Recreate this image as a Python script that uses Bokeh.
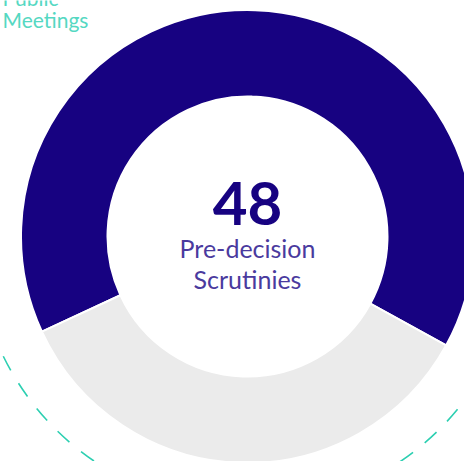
import numpy as np
from bokeh.plotting import figure
from bokeh.models import Range1d, ColumnDataSource
from bokeh.core.properties import value
from bokeh.embed import file_html
from bokeh.resources import INLINE

# Data
categories = ["Pre-decision Scrutinies", "Other"]
values = [48, 26]
colors = ["#170281", "#ebebeb"]
center_number = "48"
center_label = ["Pre-decision", "Scrutinies"]
outer_label = ["Public", "Meetings"]

W, H = 464, 461
p = figure(width=W, height=H, output_backend="svg", toolbar_location=None,
           x_range=Range1d(0, W), y_range=Range1d(0, H), min_border=0)
p.axis.visible = False
p.grid.visible = False
p.outline_line_color = None
p.background_fill_color = "white"
p.border_fill_color = "white"

cx, cy = 247, H - 236
r_in, r_out = 140, 226.5

# angles: navy starts at 331.3 deg and runs counter-clockwise
vals = np.array(values, dtype=float)
frac = vals / vals.sum()
start0 = np.deg2rad(331.3)
ends = start0 + np.cumsum(frac) * 2 * np.pi
starts = np.concatenate([[start0], ends[:-1]])
src = ColumnDataSource(dict(start=starts, end=ends, color=colors, cat=categories))
p.annular_wedge(x=cx, y=cy, inner_radius=r_in, outer_radius=r_out,
                start_angle="start", end_angle="end", fill_color="color",
                line_color="white", line_width=2, source=src)

# dashed outer arc
p.arc(x=cx, y=cy, radius=272, start_angle=np.pi, end_angle=2 * np.pi,
      line_color="#2ccfb1", line_width=1.6, line_dash="16 15")

# center texts
p.text(x=[cx], y=[H - 203], text=[center_number], text_font=value("Lato"),
       text_font_style="bold", text_font_size="60px", text_color="#170281",
       text_align="center", text_baseline="alphabetic")
p.text(x=[cx, cx], y=[H - 247, H - 278], text=center_label, text_font=value("Lato"),
       text_font_size="25px", text_color="#4a3a9e",
       text_align="center", text_baseline="alphabetic")

# outer label
p.text(x=[2, 2], y=[H + 3, H - 19], text=outer_label, text_font=value("Lato"),
       text_font_size="21px", text_color="#55d8c2",
       text_align="left", text_baseline="alphabetic")

open("out.html", "w").write(file_html(p, INLINE))
